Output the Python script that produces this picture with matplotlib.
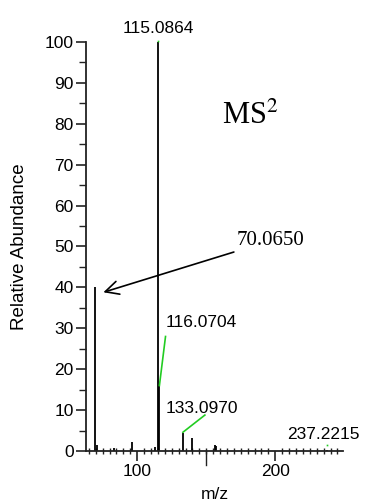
import matplotlib as mpl
mpl.rcParams['font.family'] = 'Liberation Sans'
mpl.rcParams['mathtext.fontset'] = 'stix'

import numpy as np
import matplotlib.pyplot as plt
from matplotlib.ticker import MultipleLocator

# spectrum peaks (m/z, relative abundance)
mz = [69.6, 71.07, 83.0, 96.0, 113.0, 115.0864, 116.0704, 133.0970, 140.0, 156.5, 157.2, 237.2215]
inten = [40.0, 1.4, 0.8, 2.2, 1.0, 100.0, 16.0, 4.3, 3.1, 1.6, 1.2, 0.3]

# labelled peaks
lab_mz = [115.0864, 116.0704, 133.0970, 237.2215]
lab_txt = ['115.0864', '116.0704', '133.0970', '237.2215']

fig = plt.figure(figsize=(3.68, 5.04), dpi=100)
ax = fig.add_axes([0.234, 0.105, 0.698, 0.812])

ax.vlines(mz, 0, inten, color='black', linewidth=1.3)
ax.set_xlim(63, 249)
ax.set_ylim(0, 100)

for s in ['top', 'right']:
    ax.spines[s].set_visible(False)
for s in ['left', 'bottom']:
    ax.spines[s].set_linewidth(1.3)
    ax.spines[s].set_color('#222222')

ax.yaxis.set_major_locator(MultipleLocator(10))
ax.yaxis.set_minor_locator(MultipleLocator(5))
ax.xaxis.set_major_locator(MultipleLocator(100))
ax.xaxis.set_minor_locator(MultipleLocator(5))
ax.tick_params(axis='both', which='major', length=7, width=1.2, labelsize=12.5, pad=2, color='#222222')
ax.tick_params(axis='y', which='minor', length=5, width=1.0, color='#222222')
ax.tick_params(axis='x', which='minor', length=4, width=1.0, direction='inout', color='#222222')
# medium tick at 150
ax.plot([150, 150], [0, -3.5], color='#222222', lw=1.0, clip_on=False)

ax.set_ylabel('Relative Abundance', fontsize=13.5, labelpad=12)
ax.set_xlabel('m/z', fontsize=12.5, labelpad=6)

# peak labels
ax.text(lab_mz[0], 101.5, lab_txt[0], ha='center', va='bottom', fontsize=12.5)
ax.plot([lab_mz[0]], [100.3], marker='s', ms=1.2, color='#22cc22', mec='none', clip_on=False)

ax.text(120.3, 31.5, lab_txt[1], ha='left', va='center', fontsize=12.5)
ax.plot([lab_mz[1], 120.5], [16, 28], color='#22cc22', lw=1.2)

ax.text(120.7, 10.5, lab_txt[2], ha='left', va='center', fontsize=12.5)
ax.plot([lab_mz[2], 149.0], [4.6, 8.8], color='#22cc22', lw=1.2)

ax.text(208.4, 4.0, lab_txt[3], ha='left', va='center', fontsize=12.5, clip_on=False)
ax.plot([lab_mz[3]], [1.5], marker='s', ms=1.2, color='#22cc22', mec='none')

ax.annotate('70.0650', xy=(75.5, 38.8), xytext=(172.0, 51.4),
            fontsize=15, family='Liberation Serif', ha='left', va='center',
            arrowprops=dict(arrowstyle='->', color='black', lw=1.2,
                            mutation_scale=24, shrinkA=0, shrinkB=0))

ax.text(161.5, 81.7, r'MS$^2$', fontsize=22, family='Liberation Serif', ha='left', va='center')

plt.savefig('out.png')
